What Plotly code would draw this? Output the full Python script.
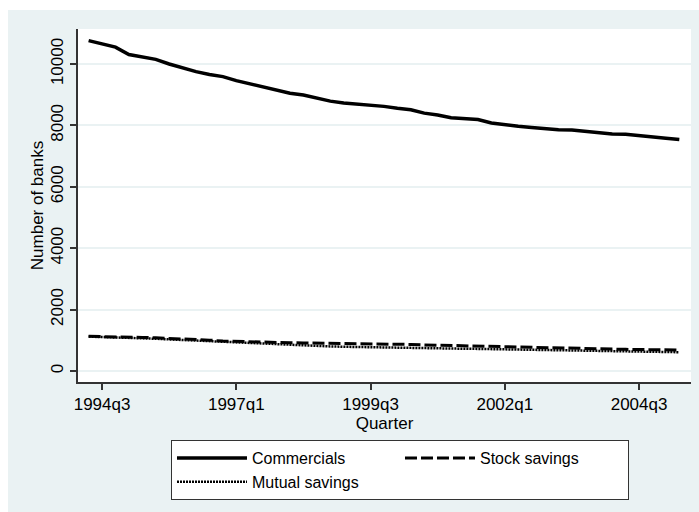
import plotly.graph_objects as go

# Quarterly bank counts, 1994q2 - 2005q2
quarters = [f"{y}q{q}" for y in range(1994, 2006) for q in range(1, 5)]
quarters = quarters[quarters.index("1994q2"):quarters.index("2005q2") + 1]

commercials = [10760, 10660, 10550, 10310, 10230, 10150, 10000, 9880, 9750, 9660,
               9590, 9460, 9350, 9240, 9150, 9050, 8990, 8900, 8790, 8730,
               8700, 8670, 8620, 8560, 8510, 8400, 8340, 8250, 8210, 8190,
               8080, 8020, 7970, 7930, 7890, 7860, 7850, 7800, 7750, 7720,
               7710, 7660, 7620, 7580, 7540]
stock_savings = [1130, 1125, 1115, 1105, 1095, 1080, 1065, 1050, 1030, 1005,
                 975, 960, 948, 938, 928, 920, 915, 910, 905, 900,
                 900, 895, 890, 880, 865, 850, 840, 830, 815, 800,
                 790, 780, 770, 755, 745, 740, 735, 730, 725, 715,
                 705, 700, 695, 690, 685]
mutual_savings = [1120, 1110, 1095, 1080, 1065, 1050, 1030, 1010, 990, 965,
                  940, 920, 900, 880, 860, 845, 830, 815, 800, 790,
                  780, 770, 760, 752, 746, 740, 735, 730, 725, 720,
                  712, 703, 694, 685, 680, 675, 670, 664, 655, 645,
                  636, 630, 624, 618, 612]

tick_quarters = ["1994q3", "1997q1", "1999q3", "2002q1", "2004q3"]
y_ticks = [0, 2000, 4000, 6000, 8000, 10000]

# numeric quarter index so the axis is evenly spaced
xidx = list(range(len(quarters)))
tick_idx = [quarters.index(q) for q in tick_quarters]

BG = "#EAF2F3"
FONT = "Liberation Sans, Arial, sans-serif"

fig = go.Figure()
fig.add_trace(go.Scatter(x=xidx, y=commercials, name="Commercials", mode="lines",
                         line=dict(color="black", width=3.5)))
fig.add_trace(go.Scatter(x=xidx, y=stock_savings, name="Stock savings", mode="lines",
                         line=dict(color="black", width=3, dash="12px,4px")))
fig.add_trace(go.Scatter(x=xidx, y=mutual_savings, name="Mutual savings", mode="lines",
                         line=dict(color="black", width=2.5, dash="2px,1px")))

fig.update_layout(
    width=699, height=512,
    margin=dict(l=78, r=8, t=29, b=130),
    paper_bgcolor="white",
    plot_bgcolor="white",
    font=dict(family=FONT, size=17, color="black"),
    shapes=[
        # graph region backdrop
        dict(type="rect", xref="paper", yref="paper", x0=-0.1142, x1=1.05,
             y0=-0.4, y1=1.0538, fillcolor=BG, line=dict(width=0), layer="below"),
        # plot region
        dict(type="rect", xref="paper", yref="paper", x0=0, x1=1, y0=0, y1=1,
             fillcolor="white", line=dict(width=0), layer="below"),
    ],
    xaxis=dict(
        range=[-0.79, 44.87],
        tickmode="array", tickvals=tick_idx, ticktext=tick_quarters,
        ticks="outside", ticklen=6, tickwidth=1.5, tickcolor="#333",
        showline=True, linecolor="#333", linewidth=1.5,
        showgrid=False, zeroline=False,
        title=dict(text="Quarter", standoff=0, font=dict(size=17)),
        tickfont=dict(size=17),
    ),
    yaxis=dict(
        range=[-358, 11140],
        tickmode="array", tickvals=y_ticks, ticktext=[str(v) for v in y_ticks],
        tickangle=-90,
        ticks="outside", ticklen=6, tickwidth=1.5, tickcolor="#333",
        showline=True, linecolor="#333", linewidth=1.5,
        showgrid=True, gridcolor=BG, gridwidth=1.5,
        zeroline=False,
        title=dict(text="Number of banks", standoff=1, font=dict(size=17)),
        tickfont=dict(size=17),
    ),
    legend=dict(
        orientation="h",
        x=0.1517, xanchor="left",
        y=-0.1643, yanchor="top",
        bgcolor="white", bordercolor="#333", borderwidth=1,
        itemwidth=70, entrywidth=143, entrywidthmode="pixels",
        font=dict(size=16),
        traceorder="normal",
    ),
)

fig.write_html("out.html")
